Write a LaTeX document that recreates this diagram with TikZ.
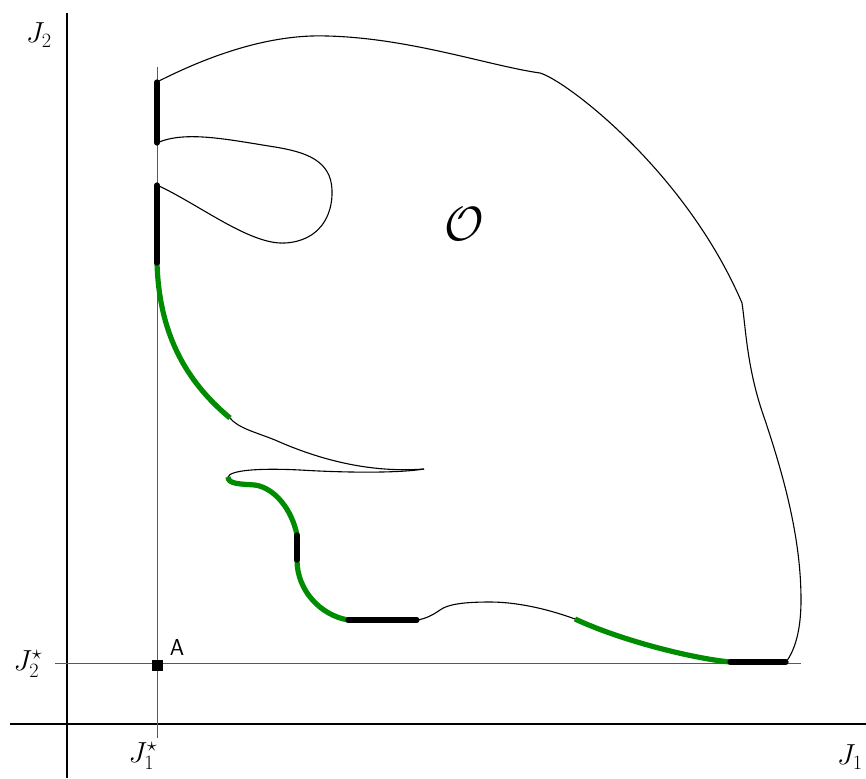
\RequirePackage{fix-cm}
\documentclass[tikz,border=0pt]{standalone}
\definecolor{ggreen}{RGB}{0,140,0}
\begin{document}
\begin{tikzpicture}[x=1pt,y=-1pt,
  outline/.style={line width=1.1pt, black, line join=round},
  gseg/.style={line width=5.2pt, draw=ggreen},
  bseg/.style={line width=5.2pt, black, line cap=round},
  guide/.style={line width=0.9pt, black!65},
  axisline/.style={line width=2.8pt, black},
  lab/.style={font=\fontsize{29}{32}\selectfont, inner sep=0pt}]
\useasboundingbox (0,0) rectangle (866,778);
% axes
\draw[axisline] (67,13) -- (67,778);
\draw[axisline] (10,724) -- (866,724);
% guide lines
\draw[guide] (157,67) -- (157,738);
\draw[guide] (55,663) -- (801,663);
% breakpoints
\coordinate (p1) at (157,82);
\coordinate (p2) at (786,662);
\coordinate (p3) at (730,662);
\coordinate (p4) at (575,619);
\coordinate (p5) at (417,620);
\coordinate (p6) at (348,620);
\coordinate (p7) at (297,560);
\coordinate (p8) at (297,535);
\coordinate (p9) at (228,477);
\coordinate (tip) at (424,469);
\coordinate (p10) at (230,418);
\coordinate (p11) at (157,263);
\coordinate (p12) at (157,185);
\coordinate (p13) at (157,143);
% thin outline pieces
\draw[outline] (p1) .. controls (210,55) and (270,34) .. (327,36)
  .. controls (410,38) and (490,66) .. (540,73)
  .. controls (565,80) and (685,170) .. (742,303)
  .. controls (746,330) and (747,370) .. (765,420)
  .. controls (785,480) and (801,540) .. (801,600)
  .. controls (801,630) and (795,650) .. (p2);
\draw[outline] (p4) .. controls (545,608) and (515,602) .. (490,602)
  .. controls (465,602) and (448,604) .. (440,610)
  .. controls (433,615) and (425,619) .. (p5);
\draw[outline] (p9) .. controls (230,470) and (260,468) .. (300,470)
  .. controls (350,473) and (400,473) .. (tip);
\draw[outline] (tip) .. controls (370,473) and (320,460) .. (275,440)
  .. controls (255,432) and (238,428) .. (p10);
\draw[outline] (p12) .. controls (200,205) and (250,245) .. (285,243)
  .. controls (320,241) and (333,215) .. (332,190)
  .. controls (331,160) and (305,152) .. (275,147)
  .. controls (230,140) and (185,130) .. (p13);
% green pieces
\draw[gseg] (p3) .. controls (690,658) and (620,640) .. (p4);
\draw[gseg] (p6) .. controls (320,615) and (297,590) .. (p7);
\draw[gseg] (p8) .. controls (292,510) and (275,488) .. (255,485)
  .. controls (240,484) and (228,484) .. (p9);
\draw[gseg] (p10) .. controls (183,379) and (159,330) .. (p11);
% black pieces
\draw[bseg] (p2) -- (p3);
\draw[bseg] (p5) -- (p6);
\draw[bseg] (p7) -- (p8);
\draw[bseg] (p11) -- (p12);
\draw[bseg] (p13) -- (p1);
% point A
\node[fill=black, minimum size=11pt, inner sep=0pt] (ptA) at (157,665) {};
\node[font=\sffamily\fontsize{23}{26}\selectfont, inner sep=0pt] (labA) at (177,648) {A};
% labels
\node[lab] (lJ2) at (39,35) {$J_2$};
\node[lab, anchor=west] (lJ1) at (837,757) {$J_1$};
\node[lab] (lJ1s) at (143,756) {$J_1^\star$};
\node[lab] (lJ2s) at (28,664) {$J_2^\star$};
\node[font=\fontsize{48}{52}\selectfont, inner sep=0pt] (lO) at (464,224) {$\mathcal{O}$};
\end{tikzpicture}
\end{document}
